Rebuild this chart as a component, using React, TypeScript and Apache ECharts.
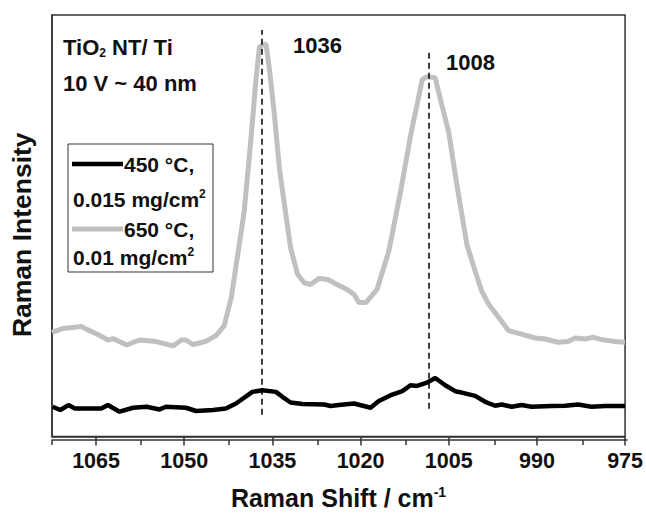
import React, { useEffect, useRef } from "react";
import * as echarts from "echarts";

// Raman shift (cm-1) and intensity (a.u.)
const shift650 = [1072.5, 1070.6, 1067.5, 1066.6, 1064.4, 1063.0, 1062.1, 1059.8, 1057.6, 1054.8, 1051.9, 1050.5, 1049.7, 1048.5, 1046.3, 1044.6, 1043.2, 1042.0, 1040.9, 1039.8, 1038.6, 1037.8, 1037.2, 1036.1, 1035.5, 1034.7, 1033.8, 1032.7, 1031.9, 1030.7, 1029.6, 1028.5, 1027.1, 1025.6, 1024.0, 1022.3, 1021.1, 1020.3, 1019.1, 1017.2, 1015.2, 1013.2, 1011.5, 1009.5, 1008.7, 1007.3, 1006.7, 1005.0, 1003.6, 1001.9, 1000.5, 999.4, 998.2, 996.5, 994.8, 993.1, 990.3, 988.6, 986.4, 984.7, 983.5, 981.8, 980.4, 979.0, 976.7, 975.0];
const intensity650 = [105, 109, 111, 108, 102, 97.3, 98.7, 92.3, 97.3, 95.7, 91.3, 97.3, 97.3, 92.7, 96, 101.7, 111.7, 140, 183.3, 227, 303.3, 360, 393.3, 396, 370, 326.7, 270, 223.3, 190, 163.3, 155, 153.3, 159.3, 158.3, 153.3, 148.3, 143.3, 135, 135, 148.3, 186.7, 246.7, 303.3, 360, 362.7, 361.7, 346.7, 306.7, 253.3, 193.3, 166.7, 146.7, 133.3, 120, 106.7, 104, 99.3, 98.3, 95, 95.7, 99.3, 98.3, 100, 97.7, 95.7, 95];

const shift450 = [1072.4, 1071.1, 1069.7, 1068.6, 1064.1, 1063.0, 1061.0, 1058.7, 1056.4, 1054.2, 1053.1, 1049.7, 1048.0, 1045.1, 1042.9, 1041.2, 1038.4, 1036.7, 1034.4, 1033.3, 1031.9, 1029.9, 1026.2, 1025.1, 1023.7, 1021.1, 1018.3, 1016.9, 1014.6, 1012.9, 1011.5, 1010.4, 1008.7, 1007.3, 1005.6, 1003.9, 1002.8, 1000.5, 998.8, 997.1, 996.0, 994.3, 992.6, 990.9, 987.5, 985.2, 983.0, 980.7, 978.4, 975.0];
const intensity450 = [30, 26.7, 31.7, 28.3, 28.3, 31.7, 25, 29, 30, 27.3, 30, 29, 25.7, 26.7, 28.3, 33.3, 45, 46.7, 45, 40, 34.3, 32.7, 32.3, 30.7, 31.7, 33.3, 29, 35.7, 42.3, 45.7, 51.7, 51, 54.3, 59, 51.7, 45.7, 44.3, 41, 35, 31, 32.3, 30, 31.7, 30, 30.7, 31, 32.3, 30, 30.7, 30.7];

const majorTicks = [975, 990, 1005, 1020, 1035, 1050, 1065];
const minorTicks = [982.5, 997.5, 1012.5, 1027.5, 1042.5, 1057.5, 1072.5];
const peakPositions = [1036.8, 1008.4];
const peakLabels = ["1036", "1008"];
const seriesNames = ["450 °C, 0.015 mg/cm²", "650 °C, 0.01 mg/cm²"];

const FONT = "'Liberation Sans', Arial, sans-serif";

export default function App() {
  const ref = useRef<HTMLDivElement>(null);
  useEffect(() => {
    if (!ref.current) return;
    const chart = echarts.init(ref.current, null, { renderer: "svg" });
    const pair = (xs: number[], ys: number[]) => xs.map((x, i) => [x, ys[i]]);
    const axisColor = "#333";
    const gridBox = { left: 52, right: 19, top: 15, bottom: 75 };
    const supStyle = { fontFamily: FONT, fontWeight: "bold", fontSize: 12, fill: "#111", verticalAlign: "top", padding: [0, 0, 10, 0] };
    const option: any = {
      animation: false,
      backgroundColor: "#fff",
      grid: [
        { ...gridBox, show: true, borderColor: axisColor, borderWidth: 1.5, backgroundColor: "transparent" },
        { ...gridBox, show: false },
      ],
      xAxis: [
        {
          gridIndex: 0, type: "value", min: 975, max: 1072.5, inverse: true, position: "bottom",
          name: "Raman Shift / cm{sup|-1}", nameLocation: "middle", nameGap: 48,
          nameTextStyle: { fontFamily: FONT, fontWeight: "bold", fontSize: 25, color: "#111",
            rich: { sup: { fontFamily: FONT, fontWeight: "bold", fontSize: 14, color: "#111", verticalAlign: "top", padding: [0, 0, 12, 0] } } },
          axisLine: { show: true, lineStyle: { color: axisColor, width: 1.5 } },
          axisTick: { show: true, length: 9, customValues: majorTicks, lineStyle: { color: axisColor, width: 1.5 } },
          axisLabel: { show: true, customValues: majorTicks, margin: 13, fontFamily: FONT, fontWeight: "bold", fontSize: 21.5, color: "#111",
            formatter: (v: number) => String(v) },
          splitLine: { show: false },
        },
        {
          gridIndex: 1, type: "value", min: 975, max: 1072.5, inverse: true, position: "bottom",
          axisLine: { show: true, lineStyle: { color: axisColor, width: 1.5 } },
          axisTick: { show: true, length: 5, customValues: minorTicks, lineStyle: { color: axisColor, width: 1.5 } },
          axisLabel: { show: false },
          splitLine: { show: false },
        },
      ],
      yAxis: [
        {
          gridIndex: 0, type: "value", min: 0, max: 425,
          name: "Raman Intensity", nameLocation: "middle", nameGap: 17, nameRotate: 90,
          nameTextStyle: { fontFamily: FONT, fontWeight: "bold", fontSize: 26.5, color: "#111", padding: [0, 18, 0, 0] },
          axisLine: { show: true, lineStyle: { color: axisColor, width: 1.5 } },
          axisTick: { show: false }, axisLabel: { show: false }, splitLine: { show: false },
        },
        {
          gridIndex: 1, type: "value", min: 0, max: 425, show: false,
        },
      ],
      series: [
        {
          name: seriesNames[0], type: "line", xAxisIndex: 0, yAxisIndex: 0, data: pair(shift450, intensity450),
          showSymbol: false, lineStyle: { color: "#000", width: 4.5 }, z: 3,
        },
        {
          name: seriesNames[1], type: "line", xAxisIndex: 0, yAxisIndex: 0, data: pair(shift650, intensity650),
          showSymbol: false, lineStyle: { color: "#c0c0c0", width: 5 }, z: 2,
          markLine: {
            silent: true, symbol: "none", label: { show: false },
            lineStyle: { type: [6, 4], color: "#000", width: 1.5 },
            data: [
              [{ coord: [peakPositions[0], 22] }, { coord: [peakPositions[0], 410] }],
              [{ coord: [peakPositions[1], 28] }, { coord: [peakPositions[1], 388] }],
            ],
          },
        },
      ],
      graphic: [
        { type: "text", x: 293, y: 45, style: { text: peakLabels[0], font: `bold 22px ${FONT}`, fill: "#111", verticalAlign: "middle" } },
        { type: "text", x: 446, y: 62, style: { text: peakLabels[1], font: `bold 22px ${FONT}`, fill: "#111", verticalAlign: "middle" } },
        { type: "text", x: 63, y: 47, style: { text: "TiO{sub|2} NT/ Ti", font: `bold 22px ${FONT}`, fill: "#111", verticalAlign: "middle",
            rich: { sub: { fontFamily: FONT, fontWeight: "bold", fontSize: 12, fill: "#111", verticalAlign: "bottom", padding: [12, 0, 0, 0] } } } },
        { type: "text", x: 63, y: 83, style: { text: "10 V ~ 40 nm", font: `bold 22px ${FONT}`, fill: "#111", verticalAlign: "middle" } },
        { type: "rect", shape: { x: 68, y: 144, width: 145, height: 128 }, style: { fill: "#fff", stroke: axisColor, lineWidth: 1 }, z: 10 },
        { type: "line", shape: { x1: 72, y1: 164, x2: 123, y2: 164 }, style: { stroke: "#000", lineWidth: 4.5 }, z: 11 },
        { type: "line", shape: { x1: 72, y1: 229, x2: 123, y2: 229 }, style: { stroke: "#c0c0c0", lineWidth: 5 }, z: 11 },
        { type: "text", x: 124, y: 164, z: 11, style: { text: "450 °C,", font: `bold 21px ${FONT}`, fill: "#111", verticalAlign: "middle" } },
        { type: "text", x: 73, y: 199, z: 11, style: { text: "0.015 mg/cm{sup|2}", font: `bold 21px ${FONT}`, fill: "#111", verticalAlign: "middle", rich: { sup: supStyle } } },
        { type: "text", x: 124, y: 229, z: 11, style: { text: "650 °C,", font: `bold 21px ${FONT}`, fill: "#111", verticalAlign: "middle" } },
        { type: "text", x: 73, y: 257, z: 11, style: { text: "0.01 mg/cm{sup|2}", font: `bold 21px ${FONT}`, fill: "#111", verticalAlign: "middle", rich: { sup: supStyle } } },
      ],
    };
    chart.setOption(option);
    return () => chart.dispose();
  }, []);
  return <div ref={ref} style={{ width: 646, height: 515, position: "absolute", left: 0, top: 0 }} />;
}
